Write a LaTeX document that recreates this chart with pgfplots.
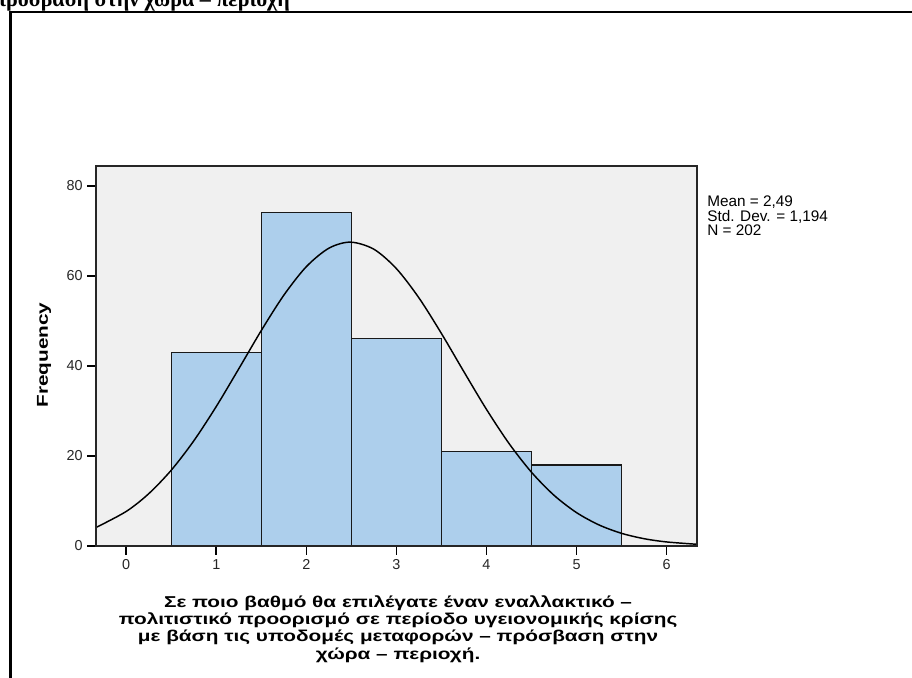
\documentclass[border=0pt]{standalone}
\usepackage{pgfplots}
\pgfplotsset{compat=1.18}
\usepackage{fontspec}
\setmainfont{Liberation Sans}
\newfontfamily\serifbf{Liberation Serif}
\newfontfamily\labfont[FakeStretch=1.32, UprightFont=* Bold, BoldFont=* Bold]{Liberation Sans}
\definecolor{barblue}{RGB}{173,207,236}
\definecolor{bggray}{RGB}{240,240,240}
\begin{document}
\begin{tikzpicture}
\useasboundingbox (0pt,0pt) rectangle (684pt,507.75pt);
\clip (0pt,0pt) rectangle (684pt,507.75pt);
\node[anchor=base east, inner sep=0, font=\serifbf\bfseries\fontsize{16.5}{18}\selectfont] at (217.5pt,502.5pt) {πρόσβαση στην χώρα – περιοχή};
\draw[line width=1.9pt] (7.7pt,-15pt) -- (7.7pt,498.9pt) -- (705pt,498.9pt);
\begin{axis}[
 at={(72pt,98.25pt)}, anchor=south west, scale only axis,
 width=450.75pt, height=285pt,
 xmin=-0.335, xmax=6.337, ymin=0, ymax=84.4,
 xtick={0,...,6}, ytick={0,20,...,80},
 axis background/.style={fill=bggray},
 axis line style={black!85, line width=1.3pt},
 tick style={black, line width=1.2pt},
 tick align=outside, major tick length=6.5pt,
 tick pos=left,
 tick label style={font=\fontsize{10.8}{12}\selectfont, text=black!85},
 /pgf/number format/assume math mode=true,
 axis on top
]
\addplot[ybar interval, fill=barblue, draw=black!90, line width=0.9pt]
 coordinates {(0.5,43) (1.5,74) (2.5,46) (3.5,21) (4.5,18) (5.5,18)};
\addplot[black, line width=1.1pt, smooth, mark=none] coordinates {
(-0.335,4.11) (0,7.67) (0.25,11.61) (0.5,16.83) (0.75,23.34) (1.0,30.98)
(1.25,39.36) (1.5,47.86) (1.75,55.70) (2.0,62.04) (2.25,66.14) (2.49,67.49)
(2.75,65.91) (3.0,61.60) (3.25,55.11) (3.5,47.19) (3.75,38.68) (4.0,30.34)
(4.25,22.77) (4.5,16.37) (4.75,11.26) (5.0,7.41) (5.25,4.67) (5.5,2.81)
(5.75,1.62) (6.0,0.90) (6.337,0.38)};
\end{axis}
\node[rotate=90, font=\labfont\fontsize{11.8}{13}\selectfont] at (33pt,241.5pt) {Frequency};
\node[anchor=north west, align=left, inner sep=0, font=\fontsize{11.5}{10.8}\selectfont] at (530.25pt,360.75pt) {Mean = 2,49\\Std. Dev. = 1,194\\N = 202};
\node[anchor=north, align=center, inner sep=0, font=\labfont\fontsize{11.8}{13}\selectfont] at (298.5pt,61.5pt) {Σε ποιο βαθμό θα επιλέγατε έναν εναλλακτικό –\\πολιτιστικό προορισμό σε περίοδο υγειονομικής κρίσης\\με βάση τις υποδομές μεταφορών – πρόσβαση στην\\χώρα – περιοχή.};
\end{tikzpicture}
\end{document}
